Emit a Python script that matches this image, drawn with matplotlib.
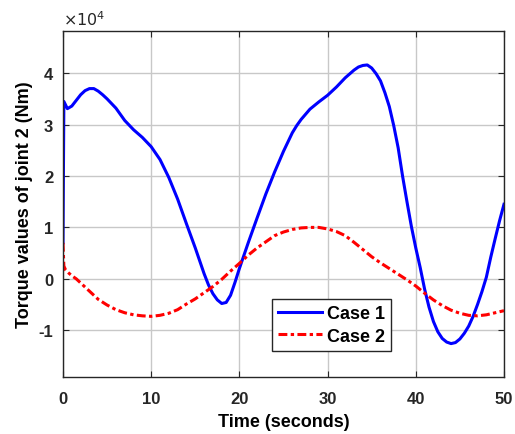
import matplotlib
matplotlib.use("Agg")
import matplotlib.pyplot as plt

plt.rcParams['font.family'] = ['Liberation Sans', 'DejaVu Sans']

# joint 2 torque, in units of 1e4 Nm
t_case1 = [0, 0.1, 0.5, 1, 1.5, 2, 2.5, 3, 3.5, 4, 4.5, 5, 6, 7, 8, 9, 10,
           11, 12, 13, 14, 15, 15.5, 16, 16.5, 17, 17.5, 18, 18.5, 19, 19.5,
           20, 21, 22, 23, 24, 25, 26, 26.5, 27, 28, 29, 30, 31, 32, 33, 33.5,
           34, 34.5, 35, 35.5, 36, 36.5, 37, 37.5, 38, 38.5, 39, 39.5, 40,
           40.5, 41, 41.5, 42, 42.5, 43, 43.5, 44, 44.5, 45, 45.5, 46, 46.5,
           47, 47.5, 48, 48.5, 49, 49.5, 50]
torque_case1 = [0.7, 3.45, 3.31, 3.36, 3.47, 3.58, 3.66, 3.7, 3.7, 3.65,
                3.58, 3.5, 3.32, 3.08, 2.9, 2.75, 2.57, 2.32, 1.97, 1.55,
                1.07, 0.6, 0.35, 0.1, -0.12, -0.29, -0.41, -0.48, -0.46,
                -0.32, -0.07, 0.2, 0.7, 1.18, 1.65, 2.08, 2.48, 2.84, 2.98,
                3.1, 3.3, 3.44, 3.57, 3.73, 3.91, 4.06, 4.12, 4.15, 4.16,
                4.1, 3.99, 3.85, 3.62, 3.35, 2.98, 2.55, 2.0, 1.5, 1.02, 0.6,
                0.22, -0.2, -0.55, -0.83, -1.03, -1.16, -1.23, -1.26, -1.24,
                -1.17, -1.06, -0.92, -0.73, -0.5, -0.25, 0.03, 0.42, 0.78,
                1.13, 1.45]

t_case2 = [0, 0.1, 0.3, 0.6, 1, 1.5, 2, 3, 4, 5, 6, 7, 8, 9, 10, 11, 12, 13,
           14, 15, 16, 17, 18, 19, 20, 21, 22, 23, 24, 25, 26, 27, 28, 29, 30,
           31, 32, 33, 34, 35, 36, 37, 38, 39, 40, 41, 42, 43, 44, 45, 46, 47,
           48, 49, 50]
torque_case2 = [0.7, 0.25, 0.17, 0.12, 0.06, 0.0, -0.08, -0.24, -0.4, -0.51,
                -0.6, -0.66, -0.7, -0.72, -0.73, -0.71, -0.67, -0.6, -0.49,
                -0.39, -0.27, -0.15, -0.01, 0.15, 0.3, 0.46, 0.6, 0.72, 0.84,
                0.91, 0.96, 0.99, 1.0, 1.0, 0.97, 0.92, 0.84, 0.71, 0.57,
                0.43, 0.31, 0.2, 0.09, -0.02, -0.14, -0.28, -0.41, -0.52,
                -0.61, -0.67, -0.71, -0.72, -0.7, -0.66, -0.62]

x_ticks = [0, 10, 20, 30, 40, 50]
y_ticks = [-1, 0, 1, 2, 3, 4]

fig = plt.figure(figsize=(5.15, 4.35), dpi=100)
ax = fig.add_axes([0.1223, 0.131, 0.8563, 0.7954])

ax.plot(t_case1, torque_case1, color='#0000ff', lw=2.2, label='Case 1',
        solid_joinstyle='round')
ax.plot(t_case2, torque_case2, color='#ff0000', lw=2.2,
        linestyle=(0, (2.9, 1.1, 1.1, 1.1)), label='Case 2')

ax.set_xlim(0, 50)
ax.set_ylim(-1.91, 4.82)
ax.set_xticks(x_ticks)
ax.set_yticks(y_ticks)
ax.set_yticklabels([str(v) for v in y_ticks])
ax.grid(True, color='#c8c8c8', lw=1)
ax.set_axisbelow(True)
for sp in ax.spines.values():
    sp.set_color('#262626')
    sp.set_linewidth(1)
ax.tick_params(direction='in', length=4, width=0.8, color='#262626',
               top=True, right=True, labelsize=12)
ax.tick_params(axis='x', pad=10)
ax.tick_params(axis='y', pad=7)
for lab in ax.get_xticklabels() + ax.get_yticklabels():
    lab.set_fontweight('bold')
    lab.set_color('#262626')

ax.text(0.0, 1.01, r'$\times10^{4}$', transform=ax.transAxes,
        fontsize=11.5, color='#262626', ha='left', va='bottom',
        family='DejaVu Sans')

ax.set_xlabel('Time (seconds)', fontsize=13, fontweight='bold', labelpad=5)
ax.set_ylabel('Torque values of joint 2 (Nm)', fontsize=13,
              fontweight='bold', labelpad=4)

leg = ax.legend(loc='lower left', bbox_to_anchor=(0.474, 0.075),
                fancybox=False, framealpha=1, edgecolor='#262626',
                handlelength=2.4, handletextpad=0.3, borderpad=0.35,
                labelspacing=0.3, borderaxespad=0,
                prop={'weight': 'bold', 'size': 13})
leg.get_frame().set_linewidth(1)

fig.savefig('out.png', dpi=100)
